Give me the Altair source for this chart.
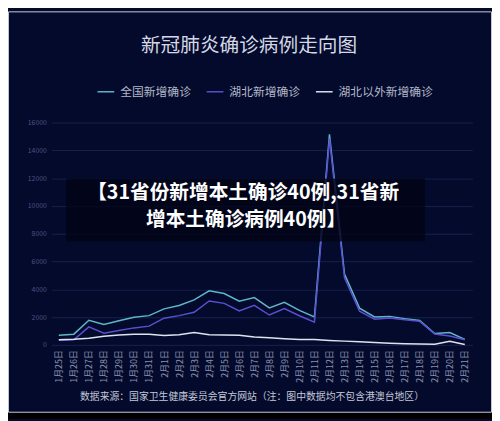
import altair as alt
import pandas as pd

dates = ["1月25日", "1月26日", "1月27日", "1月28日", "1月29日", "1月30日", "1月31日",
         "2月1日", "2月2日", "2月3日", "2月4日", "2月5日", "2月6日", "2月7日", "2月8日",
         "2月9日", "2月10日", "2月11日", "2月12日", "2月13日", "2月14日", "2月15日",
         "2月16日", "2月17日", "2月18日", "2月19日", "2月20日", "2月21日"]
national = [688, 769, 1771, 1459, 1737, 1982, 2102, 2590, 2829, 3235, 3887, 3694, 3143, 3399,
            2656, 3062, 2478, 2015, 15152, 5090, 2641, 2009, 2048, 1886, 1749, 820, 889, 397]
hubei = [323, 371, 1291, 840, 1032, 1220, 1347, 1921, 2103, 2345, 3156, 2987, 2447, 2841,
         2147, 2618, 2097, 1638, 14840, 4823, 2420, 1843, 1933, 1807, 1693, 775, 631, 366]
outside = [365, 398, 480, 619, 705, 762, 755, 669, 726, 890, 731, 707, 696, 558,
           509, 444, 381, 377, 312, 267, 221, 166, 115, 79, 56, 45, 258, 31]
series_names = ["全国新增确诊", "湖北新增确诊", "湖北以外新增确诊"]
colors = ["#5fb6c9", "#5a4fd0", "#dfe3ee"]
y_ticks = [0, 2000, 4000, 6000, 8000, 10000, 12000, 14000, 16000]

title_text = "新冠肺炎确诊病例走向图"
overlay_line1 = "【31省份新增本土确诊40例,31省新"
overlay_line2 = "增本土确诊病例40例】"
footer_text = "数据来源：国家卫生健康委员会官方网站（注：图中数据均不包含港澳台地区）"

FONT = "Noto Sans CJK SC"

rows = []
for name, vals in zip(series_names, [national, hubei, outside]):
    for d, v in zip(dates, vals):
        rows.append({"date": d, "series": name, "value": v})
df = pd.DataFrame(rows)

lines = alt.Chart(df).mark_line(strokeWidth=1.5).encode(
    x=alt.X("date:O", sort=dates,
            scale=alt.Scale(type="point", padding=0.5),
            axis=alt.Axis(title=None, labelAngle=270, labelFontSize=9, labelColor="#8a90ac",
                          ticks=False, domain=False, grid=False, labelPadding=5,
                          labelFont=FONT)),
    y=alt.Y("value:Q", scale=alt.Scale(domain=[0, 16000], nice=False),
            axis=alt.Axis(title=None, values=y_ticks, format="d", labelFontSize=7,
                          labelColor="#4c5482", gridColor="#18214c", domain=False,
                          ticks=False, labelPadding=5, labelFont=FONT)),
    color=alt.Color("series:N", sort=series_names,
                    scale=alt.Scale(domain=series_names, range=colors),
                    legend=alt.Legend(orient="none", legendX=46, legendY=-41,
                                      direction="horizontal", title=None,
                                      symbolType="stroke", symbolSize=289,
                                      symbolStrokeWidth=1.5, labelFontSize=12,
                                      labelColor="#b4b8c8", labelOffset=5,
                                      columnPadding=12, labelFont=FONT)),
)

one = pd.DataFrame({"k": [0]})

title = alt.Chart(one).mark_text(text=title_text, font=FONT, fontSize=20, color="#d4d8e4",
                                  align="center", baseline="middle").encode(
    x=alt.value(201), y=alt.value(-78))

box = alt.Chart(one).mark_rect(color="#020416", opacity=0.8).encode(
    x=alt.value(15), x2=alt.value(380), y=alt.value(57), y2=alt.value(121))

ov1 = alt.Chart(one).mark_text(text=overlay_line1, font=FONT, fontSize=20, fontWeight="bold",
                                color="#ffffff", align="center", baseline="middle").encode(
    x=alt.value(195), y=alt.value(72))
ov2 = alt.Chart(one).mark_text(text=overlay_line2, font=FONT, fontSize=20, fontWeight="bold",
                                color="#ffffff", align="center", baseline="middle").encode(
    x=alt.value(198), y=alt.value(99))

footer = alt.Chart(one).mark_text(text=footer_text, font=FONT, fontSize=10, color="#c4c8d8",
                                   align="center", baseline="middle").encode(
    x=alt.value(204), y=alt.value(279))

strip = alt.Chart(one).mark_rect(color="#000000").encode(
    x=alt.value(-44), x2=alt.value(448), y=alt.value(295), y2=alt.value(301))
frame = alt.Chart(one).mark_rect(fill="transparent", stroke="#c8ccd8", strokeWidth=1).encode(
    x=alt.value(-43.5), x2=alt.value(447.5), y=alt.value(-112.5), y2=alt.value(294.5))

chart = alt.layer(lines, box, ov1, ov2, title, footer, strip, frame).properties(
    width=428, height=226,
    padding={"left": 44, "top": 113, "right": 20, "bottom": 74},
    autosize=alt.AutoSizeParams(type="none"),
    background="#030a2c",
).configure_view(stroke=None)

chart.save("out.html", embed_options={"renderer": "svg", "actions": False})
